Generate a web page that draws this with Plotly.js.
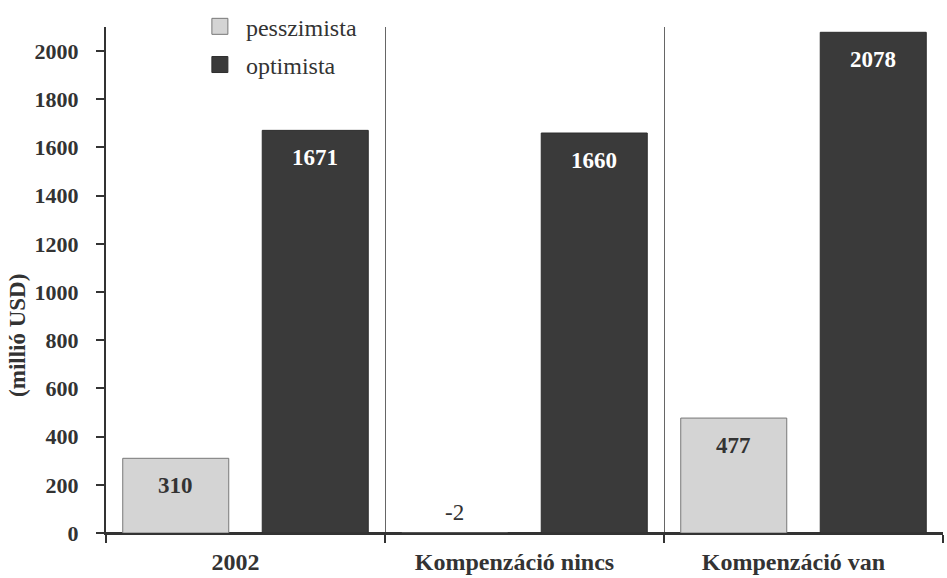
<!DOCTYPE html>
<html>
<head>
<meta charset="utf-8">
<script src="https://cdn.plot.ly/plotly-3.0.1.min.js"></script>
<style>html,body{margin:0;padding:0;background:#fff;}#chart{width:947px;height:578px;}</style>
</head>
<body>
<div id="chart"></div>
<script>
const categories = ["2002", "Kompenzáció nincs", "Kompenzáció van"];
const seriesNames = ["pesszimista", "optimista"];
const pesszimista = [310, -2, 477];
const optimista = [1671, 1660, 2078];
const yTickVals = [0, 200, 400, 600, 800, 1000, 1200, 1400, 1600, 1800, 2000];
const yTitle = "(millió USD)";

const serif = "Times New Roman, Liberation Serif, DejaVu Serif, serif";
const colors = ["#d4d4d4", "#3a3a3a"];
const lineColors = ["#777777", "#2e2e2e"];
const labelColors = ["#333333", "#ffffff"];
const series = [pesszimista, optimista];

const traces = series.map((vals, s) => ({
  type: "bar",
  name: seriesNames[s],
  x: categories,
  y: vals,
  showlegend: false,
  marker: { color: colors[s], line: { color: lineColors[s], width: 1 } },
  hoverinfo: "skip"
}));
seriesNames.forEach((n, s) => {
  traces.push({
    type: "scatter", mode: "markers", name: n, legendgroup: "g" + s,
    x: [null], y: [null],
    marker: { symbol: "square", size: 20, color: colors[s], line: { color: lineColors[s], width: 1 } },
    hoverinfo: "skip"
  });
});

const annotations = [];
series.forEach((vals, s) => {
  vals.forEach((v, i) => {
    const pos = v > 0;
    annotations.push({
      xref: "x", yref: "y",
      x: i + (s === 0 ? -0.25 : 0.25),
      y: pos ? v : 0,
      text: pos ? "<b>" + v + "</b>" : String(v),
      showarrow: false,
      yanchor: pos ? "top" : "bottom",
      yshift: pos ? -13 : 6,
      font: { family: serif, size: 23, color: pos ? labelColors[s] : "#333333" }
    });
  });
});
annotations.push({
  xref: "paper", yref: "paper",
  x: -0.106, y: 0.39, xanchor: "center", yanchor: "middle",
  text: "<b>" + yTitle + "</b>", textangle: -90, showarrow: false,
  font: { family: serif, size: 23, color: "#333" }
});

const layout = {
  width: 947, height: 578,
  margin: { l: 106, r: 4, t: 25, b: 45 },
  paper_bgcolor: "#fff", plot_bgcolor: "#fff",
  font: { family: serif },
  barmode: "group", bargap: 0, bargroupgap: 0.24,
  showlegend: true,
  legend: {
    x: 0.105, y: 1.045, xanchor: "left", yanchor: "top",
    font: { family: serif, size: 24, color: "#333" },
    bgcolor: "rgba(0,0,0,0)", itemwidth: 42,
    traceorder: "grouped", tracegroupgap: 4
  },
  xaxis: {
    type: "category",
    tickson: "boundaries",
    ticks: "outside", ticklen: 8, tickcolor: "#333", tickwidth: 2,
    showgrid: true, gridcolor: "#666", gridwidth: 1,
    showline: true, linecolor: "#333", linewidth: 2,
    tickfont: { family: serif, size: 24, color: "#333", weight: 700 },
    ticklabelstandoff: 6,
    ticklabelshift: -10,
    range: [-0.5, 2.5],
    zeroline: false
  },
  yaxis: {
    range: [0, 2100],
    tickvals: yTickVals,
    ticks: "outside", ticklen: 8, tickcolor: "#333", tickwidth: 2,
    showgrid: false, zeroline: true, zerolinecolor: "#333", zerolinewidth: 2,
    showline: true, linecolor: "#333", linewidth: 2,
    tickfont: { family: serif, size: 22, color: "#333", weight: 700 },
    ticklabelstandoff: 13
  },
  annotations: annotations
};

Plotly.newPlot("chart", traces, layout, { displayModeBar: false, staticPlot: true });
</script>
</body>
</html>
